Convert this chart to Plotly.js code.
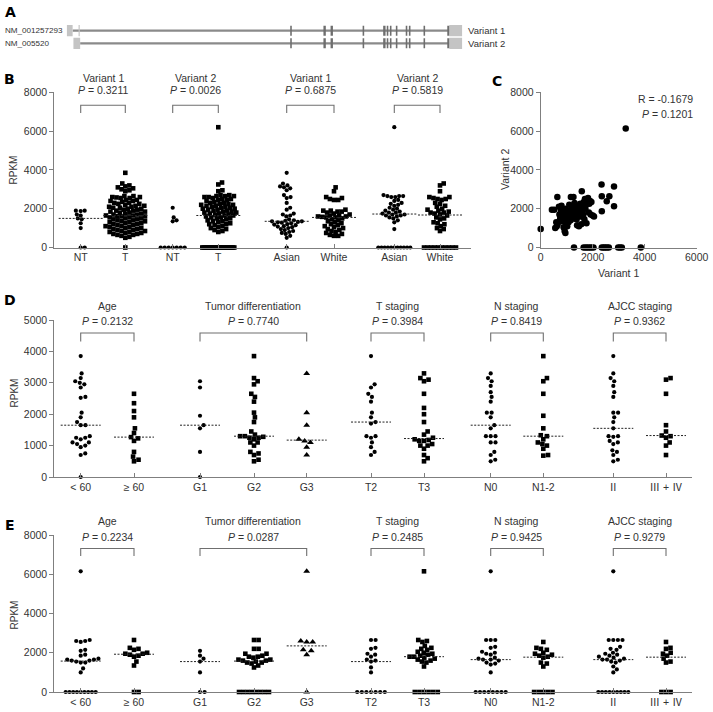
<!DOCTYPE html>
<html>
<head>
<meta charset="utf-8">
<script src="https://cdn.plot.ly/plotly-3.0.1.min.js"></script>
<style>html,body{margin:0;padding:0;background:#fff;}#chart{width:713px;height:712px;}</style>
</head>
<body>
<div id="chart"></div>
<script>
// ---------------- DATA ----------------
// Panel A: transcript structure (relative transcript units, 0-100)
const aNames = ['NM_001257293', 'NM_005520'];
const aVariants = ['Variant 1', 'Variant 2'];
const aSharedExons = [[56.5,56.9],[64.9,65.5],[66.7,67.3],[74.8,75.2],[80.0,80.6],[80.9,81.3],[81.7,82.1],[83.2,83.6],[85.7,86.1],[86.5,86.9],[90.2,90.6],[96.2,96.7]];
const aV1Utr = [[0,1.5],[3.0,3.3],[96.7,100]];
const aV2Utr = [[1.7,3.4],[96.7,100]];
const aV1Span = [1.5, 96.7];
const aV2Span = [3.4, 96.7];

// Panel B
const bCategories = ['NT','T','NT','T','Asian','White','Asian','White'];
const bTitles = ['Variant 1','Variant 2','Variant 1','Variant 2'];
const bPvalues = ['0.3211','0.0026','0.6875','0.5819'];
const bNTv1 = [1900,1900,1880,1700,1650,1500,1450,1250,1000,0,0];
const bTv1 = [3850,3300,3200,3150,3100,3050,3000,2950,2900,2650,2650,2600,2600,2580,2550,2550,2450,2450,2400,2400,
  2350,2300,2300,2250,2250,2200,2150,2150,2100,2100,2050,2050,2000,2000,1950,1950,1900,1900,1850,1850,1800,1800,1750,1750,
  1700,1700,1650,1650,1620,1600,1600,1550,1550,1500,1500,1450,1450,1400,1400,1350,1350,1300,1300,1250,1250,
  1200,1200,1150,1150,1100,1100,1050,1050,1000,1000,950,950,900,900,850,850,800,800,750,750,700,700,650,650,600,550,500,0];
const bNTv2 = [2050,1550,1400,1350,0,0,0,0,0,0,0];
const bTv2 = [6200,3350,3250,2950,2900,2700,2700,2650,2650,2650,2600,2600,2550,2500,2500,2450,2450,2400,
  2350,2300,2300,2250,2250,2200,2200,2150,2150,2100,2100,2050,2050,2000,2000,1950,1950,1900,1900,1850,1850,1800,1800,
  1750,1750,1700,1700,1650,1650,1600,1550,1550,1500,1500,1450,1400,1350,1350,1300,1250,1200,1200,1150,1100,1050,1000,
  950,900,850,800,0,0,0,0,0,0,0,0,0,0,0,0,0,0,0,0,0,0,0,0,0,0,0,0,0];
const bAsianV1 = [3850,3300,3200,3150,3100,3050,2950,2700,2600,2550,2300,2050,1950,1750,1700,1650,1600,1450,1400,1380,1350,
  1350,1320,1300,1280,1250,1200,1180,1150,1100,1080,1050,1000,950,900,850,800,750,700,600,500,0];
const bWhiteV1 = [3100,2900,2600,2550,2500,2450,2450,1950,1900,1900,1850,1850,1800,1750,1700,1650,1650,1600,1600,1580,1550,
  1550,1500,1450,1400,1350,1300,1250,1200,1150,1100,1050,1000,950,900,850,800,750,700,650,600,600];
const bAsianV2 = [6200,2700,2650,2650,2650,2600,2600,2450,2400,2300,2250,2200,2150,2050,2000,1950,1900,1850,1800,1800,1750,
  1700,1700,1650,1650,1600,1550,1500,1400,1300,950,0,0,0,0,0,0,0,0,0,0,0];
const bWhiteV2 = [3300,3200,2900,2600,2600,2550,2500,2500,2450,2300,2250,2150,2100,2000,1950,1900,1850,1800,1800,1750,1700,
  1650,1550,1500,1450,1300,1250,1200,1100,1000,950,850,0,0,0,0,0,0,0,0,0,0];

// Panel C
const cVariant1 = [520,600,620,650,700,720,750,780,800,820,850,880,900,920,950,960,980,1000,1020,1050,1080,1100,1120,1150,1160,
  1180,1200,1220,1250,1260,1280,1300,1320,1340,1360,1380,1400,1420,1450,1470,1500,1520,1540,1560,1580,1600,1620,1640,1660,1680,
  1700,1720,1740,1760,1780,1800,1820,1850,1870,1900,1920,1950,2000,2050,640,430,560,880,1070,
  2340,2820,2350,2640,2540,2820,2350,3270,0,
  1280,1650,1730,1800,1880,1950,2030,2350,2420,2480,2550,2620,2980,3050,3120,3850];
const cVariant2 = [1950,1300,1100,1200,2100,1700,1500,1900,2150,1350,1600,1800,1450,850,750,2000,1250,1700,1100,1900,1550,2200,
  1650,1400,2600,1850,1600,2050,1750,2600,1500,2300,1900,1650,2150,1450,1150,2000,1750,1100,1850,2250,1600,1200,2900,1950,2100,
  1700,2350,1450,2500,2000,2200,1250,2400,2300,2550,1800,2250,2400,1700,2350,1650,1600,2600,1950,1000,1050,1300,
  3250,3150,2640,2640,2390,2120,1870,6130,950,
  0,0,0,0,0,0,0,0,0,0,0,0,0,0,0,0];
const cR = '-0.1679';
const cP = '0.1201';

// Panels D and E
const deCategories = ['< 60','\u2265 60','G1','G2','G3','T2','T3','N0','N1-2','\u2161','\u2162 + \u2163'];
const deTitles = ['Age','Tumor differentiation','T staging','N staging','AJCC staging'];
const dPvalues = ['0.2132','0.7740','0.3984','0.8419','0.9362'];
const ePvalues = ['0.2234','0.0287','0.2485','0.9425','0.9279'];

const dUnder60 = [3850,3300,3150,3050,3000,2950,2850,2550,2520,2050,1900,1750,1650,1650,1300,1250,1250,1200,1100,1100,1050,1000,950,750,700,0];
const d60Plus = [2650,2350,2100,1900,1550,1400,1270,1230,1150,800,650,550,500];
const dG1 = [3050,2850,1950,1650,1550,800,0];
const dG2 = [3850,3150,3050,2950,2650,2550,2400,2050,1900,1750,1450,1350,1300,1300,1280,1250,1250,1200,1100,1100,1000,800,750,700,550,500];
const dG3 = [3300,2050,1650,1200,1150,1100,950,700];
const dT2 = [3850,2950,2850,2650,2550,2400,2050,1900,1750,1700,1300,1300,1250,1100,950,800,700];
const dT3 = [3300,3150,3100,3050,2650,2200,2000,1750,1450,1350,1250,1200,1180,1150,1150,1050,1000,1000,900,700,600,500];
const dN0 = [3300,3150,3050,2900,2700,2550,2400,2050,2050,1900,1650,1550,1300,1300,1300,1100,1100,800,700,550,500];
const dN12 = [3850,3150,3050,2650,1950,1550,1330,1300,1200,1100,1050,1000,900,700,680];
const dII = [3850,3300,3150,3050,2900,2700,2550,2050,2050,1900,1750,1550,1300,1300,1280,1150,1100,1050,850,800,700,550,500];
const dIIIIV = [3150,3100,2650,1650,1450,1320,1300,1250,1100,1000,700];

const eUnder60 = [6150,2650,2600,2600,2550,2150,2100,1900,1850,1700,1650,1650,1600,1600,1550,1500,1500,1200,1000,0,0,0,0,0,0,0,0,0];
const e60Plus = [2650,2250,2200,2150,2000,1950,1950,1900,1850,1800,1550,1350,0,0];
const eG1 = [2100,1850,1700,1550,1000,0,0];
const eG2 = [2650,2650,2200,2200,1950,1950,1850,1800,1800,1750,1650,1650,1600,1600,1550,1500,1500,1450,1350,1250,0,0,0,0,0,0,0,0];
const eG3 = [6150,2600,2550,2550,2150,2100,1900,0];
const eT2 = [2650,2650,2250,2200,1950,1900,1800,1650,1600,1550,1250,1000,0,0,0,0,0,0,0];
const eT3 = [6150,2650,2600,2550,2350,2250,2200,2150,2050,2000,1950,1900,1850,1800,1800,1750,1700,1650,1600,1550,1500,1300,0,0,0,0,0,0];
const eN0 = [6150,2650,2650,2650,2300,2250,2050,2000,1950,1900,1750,1700,1650,1650,1600,1500,1450,1400,1000,0,0,0,0,0,0,0,0];
const eN12 = [2550,2250,2200,2150,2000,1950,1900,1850,1800,1750,1500,1450,1300,0,0,0,0,0];
const eII = [6150,2650,2650,2650,2650,2300,2200,2150,2000,1950,1900,1850,1800,1750,1700,1650,1650,1600,1550,1500,1300,1150,1000,0,0,0,0,0,0,0,0,0];
const eIIIIV = [2550,2250,2200,2000,1950,1850,1700,1550,1500,0,0,0];

// ---------------- LAYOUT HELPERS ----------------
const W = 713, H = 712;
const FONT = 'Liberation Sans, Arial, Noto Sans CJK SC, sans-serif';
const TXT = '#333333';
const AX = '#7f7f7f';
const px = v => v / W;
const py = v => 1 - v / H;

function median(arr) {
  const s = arr.slice().sort((a, b) => a - b);
  const n = s.length;
  return n % 2 ? s[(n - 1) / 2] : (s[n / 2 - 1] + s[n / 2]) / 2;
}

// beeswarm offsets in pixels (deterministic, from the values)
function swarm(vals, pxPerUnit, d, tieHalf) {
  const n = vals.length;
  const idx = vals.map((v, i) => i).sort((a, b) => vals[a] - vals[b]);
  const off = new Array(n).fill(0);
  const placed = [];
  const counts = {};
  vals.forEach(v => counts[v] = (counts[v] || 0) + 1);
  const done = {};
  for (const i of idx) {
    const v = vals[i], y = v * pxPerUnit;
    if (counts[v] > 1 && (counts[v] - 1) * d > 2 * tieHalf) {
      const k = done[v] || 0; done[v] = k + 1;
      off[i] = -tieHalf + 2 * tieHalf * k / (counts[v] - 1);
      placed.push([off[i], y]);
      continue;
    }
    const cands = [0];
    for (const [qx, qy] of placed) {
      const dy = Math.abs(qy - y);
      if (dy < d) { const dx = Math.sqrt(d * d - dy * dy); cands.push(qx + dx, qx - dx); }
    }
    cands.sort((a, b) => Math.abs(a) - Math.abs(b));
    let chosen = cands[cands.length - 1];
    for (const c of cands) {
      let ok = true;
      for (const [qx, qy] of placed) {
        const dx = c - qx, dy = qy - y;
        if (dx * dx + dy * dy < d * d - 1e-6) { ok = false; break; }
      }
      if (ok) { chosen = c; break; }
    }
    off[i] = chosen;
    placed.push([chosen, y]);
  }
  return off;
}

const traces = [];
const shapes = [];
const annotations = [];

function ann(text, x, y, o) {
  o = o || {};
  annotations.push(Object.assign({
    text: text, x: px(x), y: py(y), xref: 'paper', yref: 'paper', showarrow: false,
    xanchor: 'center', yanchor: 'middle',
    font: {family: FONT, size: 10.5, color: TXT}
  }, o));
}

const symSize = {circle: 4.2, square: 4.6, 'triangle-up': 6};

function addGroup(vals, center, xa, ya, symbol, pxPerUnit, d, tieHalf, hw, drawMedian) {
  const off = swarm(vals, pxPerUnit, d, tieHalf);
  traces.push({
    type: 'scatter', mode: 'markers', x: off.map(o => center + o), y: vals,
    xaxis: xa, yaxis: ya, cliponaxis: false, hoverinfo: 'skip', showlegend: false,
    marker: {symbol: symbol, size: symSize[symbol], color: '#000000', line: {width: 0}}
  });
  const m = median(vals);
  if (drawMedian && m > 0) {
    shapes.push({type: 'line', xref: xa, yref: ya, x0: center - hw, x1: center + hw, y0: m, y1: m,
      line: {color: '#222222', width: 1, dash: '2px,1.5px'}});
  }
}

function bracket(xa, c0, c1, topPx, legPx) {
  shapes.push({type: 'path', xref: xa, yref: 'paper',
    path: `M ${c0},${py(legPx)} L ${c0},${py(topPx)} L ${c1},${py(topPx)} L ${c1},${py(legPx)}`,
    line: {color: '#6f6f6f', width: 1.1}});
}

// ---------------- PANEL A ----------------
const aX0 = 66.7, aX1 = 462.3;
const aRows = [1.5, 0.5];
const aSpans = [aV1Span, aV2Span];
const aUtrs = [aV1Utr, aV2Utr];
for (let r = 0; r < 2; r++) {
  const yc = aRows[r];
  shapes.push({type: 'line', xref: 'x5', yref: 'y5', x0: aSpans[r][0], x1: aSpans[r][1], y0: yc, y1: yc,
    line: {color: '#8a8a8a', width: 2.2}});
  aUtrs[r].forEach(e => shapes.push({type: 'rect', xref: 'x5', yref: 'y5', x0: e[0], x1: e[1], y0: yc - 0.45, y1: yc + 0.45,
    fillcolor: '#c4c4c4', line: {width: 0}}));
  aSharedExons.forEach(e => shapes.push({type: 'rect', xref: 'x5', yref: 'y5', x0: e[0], x1: e[1], y0: yc - 0.4, y1: yc + 0.4,
    fillcolor: '#6e6e6e', line: {width: 0}}));
  ann(aNames[r], 3, 30.7 + 12.6 * r, {xanchor: 'left', font: {family: FONT, size: 8.1, color: TXT}});
  ann(aVariants[r], 466, 30.7 + 12.6 * r, {xanchor: 'left', font: {family: FONT, size: 9.5, color: TXT}});
}

// ---------------- PANEL B ----------------
const bAxisLeft = 54.3, bAxisRight = 470.7;
const bTop = 92.3, bBottom = 247.5;
const bCenters = [80.7, 125.3, 172.7, 218.3, 286.7, 334, 394.3, 440].map(c => c - bAxisLeft);
const bPPU = (bBottom - bTop) / 8000;
const bGroups = [bNTv1, bTv1, bNTv2, bTv2, bAsianV1, bWhiteV1, bAsianV2, bWhiteV2];
const bSymbols = ['circle', 'square', 'circle', 'square', 'circle', 'square', 'circle', 'square'];
bGroups.forEach((g, i) => {
  const isSq = bSymbols[i] === 'square';
  addGroup(g, bCenters[i], 'x', 'y', bSymbols[i], bPPU, isSq ? 4.2 : 4.0, 16, 22, true);
});
for (let k = 0; k < 4; k++) {
  const c0 = bCenters[2 * k], c1 = bCenters[2 * k + 1];
  bracket('x', c0, c1, 105.3, 113);
  const mid = bAxisLeft + (c0 + c1) / 2;
  ann(bTitles[k], mid, 78);
  ann('<i>P</i> = ' + bPvalues[k], mid, 90);
}
ann('RPKM', 13.5, 170, {textangle: -90, font: {family: FONT, size: 10, color: TXT}});

// ---------------- PANEL C ----------------
traces.push({
  type: 'scatter', mode: 'markers', x: cVariant1, y: cVariant2, xaxis: 'x2', yaxis: 'y2',
  cliponaxis: false, hoverinfo: 'skip', showlegend: false,
  marker: {symbol: 'circle', size: 6.5, color: '#000000', line: {width: 0}}
});
ann('R = ' + cR, 695, 98.5, {xanchor: 'right'});
ann('<i>P</i> = ' + cP, 695, 113.5, {xanchor: 'right'});
ann('Variant 1', 618, 273.5, {font: {family: FONT, size: 10.5, color: TXT}});
ann('Variant 2', 505, 170, {textangle: -90, font: {family: FONT, size: 10.5, color: TXT}});

// ---------------- PANELS D & E ----------------
const deAxisLeft = 54.3, deAxisRight = 691.7;
const deCenters = [80.7, 134, 200, 254, 306.7, 371, 424, 490.7, 543.3, 613.3, 666].map(c => c - deAxisLeft);
const deSymbols = ['circle', 'square', 'circle', 'square', 'triangle-up', 'circle', 'square', 'circle', 'square', 'circle', 'square'];
const dGroups = [dUnder60, d60Plus, dG1, dG2, dG3, dT2, dT3, dN0, dN12, dII, dIIIIV];
const eGroups = [eUnder60, e60Plus, eG1, eG2, eG3, eT2, eT3, eN0, eN12, eII, eIIIIV];
const bracketPairs = [[0, 1], [2, 4], [5, 6], [7, 8], [9, 10]];

const dTop = 320, dBottom = 477;
const eTop = 535, eBottom = 692;
const dPPU = (dBottom - dTop) / 5000;
const ePPU = (eBottom - eTop) / 8000;
dGroups.forEach((g, i) => addGroup(g, deCenters[i], 'x3', 'y3', deSymbols[i], dPPU, deSymbols[i] === 'triangle-up' ? 6 : 4.8, 16, 20, true));
eGroups.forEach((g, i) => addGroup(g, deCenters[i], 'x4', 'y4', deSymbols[i], ePPU, deSymbols[i] === 'triangle-up' ? 6 : 4.6, 15, 20, true));
bracketPairs.forEach((p, k) => {
  const c0 = deCenters[p[0]], c1 = deCenters[p[1]];
  const mid = deAxisLeft + (c0 + c1) / 2;
  bracket('x3', c0, c1, 333, 341.5);
  ann(deTitles[k], mid, 305.5);
  ann('<i>P</i> = ' + dPvalues[k], mid, 321);
  bracket('x4', c0, c1, 548.5, 556);
  ann(deTitles[k], mid, 521);
  ann('<i>P</i> = ' + ePvalues[k], mid, 537);
});
ann('RPKM', 13.5, 393, {textangle: -90, font: {family: FONT, size: 10, color: TXT}});
ann('RPKM', 13.5, 615, {textangle: -90, font: {family: FONT, size: 10, color: TXT}});

// panel letters
const letterFont = {family: 'DejaVu Sans, Liberation Sans, sans-serif', size: 14, color: '#000000', weight: 'bold'};
ann('<b>A</b>', 10, 12, {font: letterFont});
ann('<b>B</b>', 9.5, 79, {font: letterFont});
ann('<b>C</b>', 497, 81, {font: letterFont});
ann('<b>D</b>', 9.5, 300, {font: letterFont});
ann('<b>E</b>', 9.5, 525, {font: letterFont});

// ---------------- AXES ----------------
const tickFont = {family: FONT, size: 10.5, color: TXT};
function yAxis(top, bottom, left, range, step, anchor) {
  const vals = [];
  for (let v = range[0]; v <= range[1]; v += step) vals.push(v);
  return {
    domain: [py(bottom), py(top)], range: range, anchor: anchor,
    showline: true, linecolor: AX, linewidth: 1, ticks: 'outside', ticklen: 4, tickcolor: AX, tickwidth: 1,
    tickvals: vals, ticktext: vals.map(String), tickfont: tickFont, showgrid: false, zeroline: false, fixedrange: true
  };
}
function catAxis(left, right, centers, labels, anchor) {
  return {
    domain: [px(left), px(right)], range: [0, right - left], anchor: anchor,
    showline: true, linecolor: AX, linewidth: 1.2, ticks: 'inside', ticklen: 4, tickcolor: AX, tickwidth: 1,
    tickvals: centers, ticktext: labels, tickfont: tickFont, showgrid: false, zeroline: false, fixedrange: true
  };
}

const layout = {
  width: W, height: H, margin: {l: 0, r: 0, t: 0, b: 0}, showlegend: false,
  paper_bgcolor: '#ffffff', plot_bgcolor: 'rgba(0,0,0,0)',
  font: {family: FONT, size: 10.5, color: TXT},
  xaxis: catAxis(bAxisLeft, bAxisRight, bCenters, bCategories, 'y'),
  yaxis: yAxis(bTop, bBottom, bAxisLeft, [0, 8000], 2000, 'x'),
  xaxis2: {
    domain: [px(540.7), px(696.7)], range: [0, 6000], anchor: 'y2',
    showline: true, linecolor: AX, linewidth: 1, ticks: 'inside', ticklen: 4, tickcolor: AX,
    tickvals: [0, 2000, 4000, 6000], tickfont: tickFont, showgrid: false, zeroline: false, fixedrange: true
  },
  yaxis2: Object.assign(yAxis(bTop, bBottom, 540.7, [0, 8000], 2000, 'x2'), {domain: [py(bBottom), py(bTop)]}),
  xaxis3: catAxis(deAxisLeft, deAxisRight, deCenters, deCategories, 'y3'),
  yaxis3: yAxis(dTop, dBottom, deAxisLeft, [0, 5000], 1000, 'x3'),
  xaxis4: catAxis(deAxisLeft, deAxisRight, deCenters, deCategories, 'y4'),
  yaxis4: yAxis(eTop, eBottom, deAxisLeft, [0, 8000], 2000, 'x4'),
  xaxis5: {domain: [px(aX0), px(aX1)], range: [0, 100], visible: false, anchor: 'y5', fixedrange: true},
  yaxis5: {domain: [py(49.6), py(24.4)], range: [0, 2], visible: false, anchor: 'x5', fixedrange: true},
  shapes: shapes,
  annotations: annotations
};

// anchor trace so panel A axes exist
traces.push({type: 'scatter', mode: 'markers', x: [], y: [], xaxis: 'x5', yaxis: 'y5', showlegend: false, hoverinfo: 'skip'});

Plotly.newPlot('chart', traces, layout, {staticPlot: true, displayModeBar: false});
</script>
</body>
</html>
